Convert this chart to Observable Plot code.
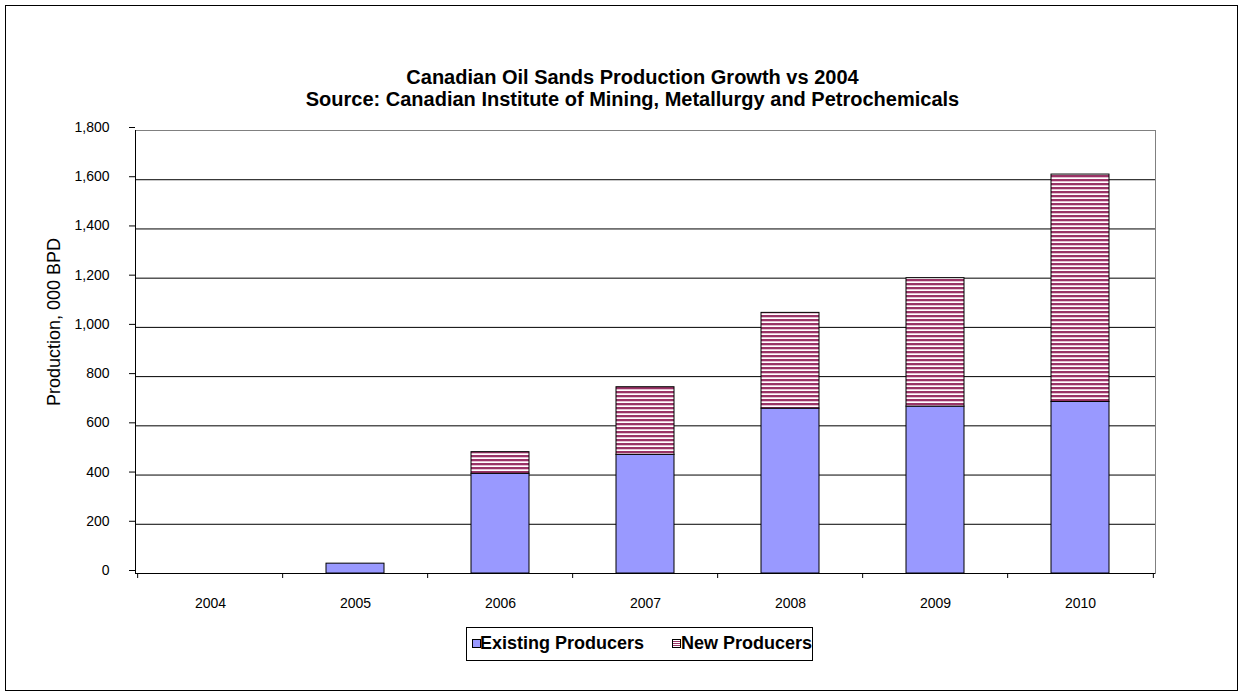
<!DOCTYPE html>
<html><head><meta charset="utf-8">
<script src="https://cdn.jsdelivr.net/npm/d3@7"></script>
<script src="https://cdn.jsdelivr.net/npm/@observablehq/plot@0.6"></script>
<style>
body{margin:0;background:#fff;font-family:Arial,"Liberation Sans",sans-serif;color:#000;}
#wrap{position:relative;width:1243px;height:696px;overflow:hidden;background:#fff;}
#frame{position:absolute;left:5px;top:5px;width:1231px;height:684px;border:1px solid #000;}
#title{position:absolute;left:11px;width:1243px;top:66px;text-align:center;font-size:20px;font-weight:bold;line-height:22px;}
#chart{position:absolute;left:0;top:110px;}
#legend{position:absolute;left:466px;top:627px;width:345px;height:32px;border:1px solid #000;font-size:18px;font-weight:bold;}
#legend .item{position:absolute;top:5px;white-space:nowrap;line-height:20px;}
#legend .sw{position:absolute;top:11px;width:7px;height:7px;border:1px solid #000;}
.hatch{background:repeating-linear-gradient(to bottom,#fff 0px,#fff 1px,#993366 1px,#993366 2px);}
</style></head>
<body><div id="wrap">
<div id="frame"></div>
<div id="title"></div>
<div id="chart"></div>
<div id="legend"></div>
</div>
<script>
const years = ["2004","2005","2006","2007","2008","2009","2010"];
const existingProducers = [0, 40, 405, 482, 670, 678, 697];
const newProducers = [0, 0, 88, 275, 389, 522, 924];
const seriesNames = ["Existing Producers", "New Producers"];
const seriesColors = ["#9999FF", "url(#hatch)"];
const yTicks = [0, 200, 400, 600, 800, 1000, 1200, 1400, 1600, 1800];
const titleLines = ["Canadian Oil Sands Production Growth vs 2004",
  "Source: Canadian Institute of Mining, Metallurgy and Petrochemicals"];
const yLabel = "Production, 000 BPD";

document.getElementById("title").innerHTML = titleLines.map(t => `<div>${t}</div>`).join("");

const rows = [];
years.forEach((yr, i) => {
  if (existingProducers[i] > 0) rows.push({year: yr, series: seriesNames[0], value: existingProducers[i]});
  if (newProducers[i] > 0) rows.push({year: yr, series: seriesNames[1], value: newProducers[i]});
});

const W = 1243, H = 500, ML = 135, MR = 88, MT = 20, MB = 37;
const step = (W - ML - MR) / years.length;

const chart = Plot.plot({
  width: W, height: H,
  marginLeft: ML, marginRight: MR, marginTop: MT, marginBottom: MB,
  style: {fontFamily: "Arial, 'Liberation Sans', sans-serif", fontSize: "14px", color: "#000", background: "transparent"},
  x: {domain: years, paddingInner: 0.6, paddingOuter: 0.3, axis: null},
  y: {domain: [0, 1800], axis: null},
  color: {domain: seriesNames, range: seriesColors},
  marks: [
    Plot.frame({stroke: "#808080"}),
    Plot.ruleY(yTicks.slice(0, -1), {stroke: "#000", strokeWidth: 1}),
    Plot.barY(rows, Plot.stackY({x: "year", y: "value", fill: "series", stroke: "#000", strokeWidth: 1, order: seriesNames})),
    Plot.frame({anchor: "left", stroke: "#000"}),
    Plot.axisY({ticks: yTicks, tickFormat: d3.format(","), tickSize: 6, tickPadding: 20, fontSize: 14, label: null, dy: -3}),
    Plot.axisX({tickSize: 0, tickPadding: 25, fontSize: 14, label: null}),
    Plot.axisX({ticks: years, tickSize: 5, tickFormat: () => "", dx: -step / 2, label: null}),
    Plot.axisX({ticks: years.slice(-1), tickSize: 5, tickFormat: () => "", dx: step / 2, label: null}),
    Plot.text([yLabel], {frameAnchor: "left", textAnchor: "middle", rotate: -90, dx: -81, dy: -30, fontSize: 18})
  ]
});

const defs = d3.select(chart).insert("defs", ":first-child");
const pat = defs.append("pattern").attr("id", "hatch").attr("patternUnits", "userSpaceOnUse").attr("width", 8).attr("height", 4);
pat.append("rect").attr("width", 8).attr("height", 4).attr("fill", "#fff");
pat.append("rect").attr("y", 1).attr("width", 8).attr("height", 2).attr("fill", "#993366");
pat.append("rect").attr("y", 3).attr("width", 8).attr("height", 1).attr("fill", "#e6bfd2");

document.getElementById("chart").appendChild(chart);

const legend = document.getElementById("legend");
const legendX = [[5, 13], [205, 214]];
seriesNames.forEach((name, i) => {
  const sw = document.createElement("div");
  sw.className = "sw" + (i === 1 ? " hatch" : "");
  if (i === 0) sw.style.background = seriesColors[0];
  sw.style.left = legendX[i][0] + "px";
  legend.appendChild(sw);
  const t = document.createElement("div");
  t.className = "item";
  t.style.left = legendX[i][1] + "px";
  t.textContent = name;
  legend.appendChild(t);
});
</script>
</body></html>
